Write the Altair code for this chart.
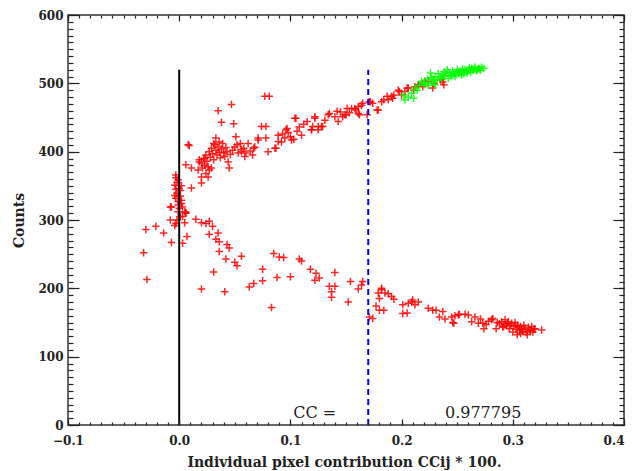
import altair as alt
import pandas as pd

# ---------------- data ----------------
x_major = [-0.1, 0.0, 0.1, 0.2, 0.3, 0.4]
y_major = [0, 100, 200, 300, 400, 500, 600]
x_minor = [round(-0.1 + 0.01 * i, 3) for i in range(51)]
y_minor = list(range(0, 601, 10))

red_upper = [
    (-0.003, 366), (-0.001, 359), (-0.004, 351), (0.000, 346), (-0.002, 339), (-0.003, 332),
    (0.002, 329), (-0.001, 322), (-0.001, 327), (0.002, 324), (0.003, 319), (0.000, 317),
    (0.005, 312), (0.006, 310), (-0.002, 355), (0.001, 343), (-0.004, 336), (0.001, 335),
    (-0.003, 345), (-0.002, 300), (-0.004, 292), (0.001, 305), (-0.001, 312), (-0.003, 362),
    (0.002, 350), (-0.008, 319),
    (0.006, 381), (0.011, 376), (0.017, 373), (0.020, 363), (0.011, 347), (0.020, 354),
    (0.026, 363), (0.029, 376), (0.008, 410), (0.009, 409), (0.033, 420), (0.035, 460),
    (0.038, 443), (0.047, 469), (0.049, 441), (0.077, 481), (0.081, 481), (0.074, 437),
    (0.078, 437), (0.096, 432), (0.051, 422), (0.062, 412), (0.071, 420), (0.078, 420),
    (0.089, 415), (0.087, 405), (0.080, 400), (0.067, 405), (0.056, 403), (0.053, 398),
    (0.045, 376), (0.050, 407), (0.056, 400), (0.059, 393), (0.068, 407), (0.071, 417),
    (0.086, 405), (0.089, 424), (0.097, 434), (0.104, 449), (0.101, 417), (0.110, 424),
    (0.119, 432), (0.122, 451),
    (0.020, 383), (0.022, 390), (0.024, 395), (0.025, 386), (0.027, 400), (0.028, 392),
    (0.029, 405), (0.030, 397), (0.031, 388), (0.032, 410), (0.033, 402), (0.034, 395),
    (0.035, 407), (0.036, 399), (0.037, 391), (0.038, 404), (0.039, 412), (0.040, 398),
    (0.041, 393), (0.042, 406), (0.043, 400), (0.044, 385), (0.026, 378), (0.023, 380),
    (0.031, 412), (0.018, 388), (0.036, 414), (0.046, 396), (0.048, 402), (0.052, 410),
    (0.055, 412), (0.058, 405), (0.060, 398), (0.064, 401), (0.066, 395),
    (0.023, 390), (0.018, 385), (0.021, 376), (0.027, 373), (0.024, 368),
    (0.092, 414), (0.095, 420), (0.098, 428), (0.100, 422), (0.103, 418), (0.106, 430),
    (0.108, 436), (0.093, 426), (0.105, 449), (0.122, 449), (0.120, 437), (0.125, 437),
    (0.119, 432), (0.129, 437), (0.128, 437), (0.125, 432), (0.134, 454), (0.142, 459),
    (0.143, 444), (0.149, 454), (0.151, 463), (0.158, 463), (0.161, 456), (0.164, 468),
    (0.169, 454), (0.172, 473), (0.178, 461), (0.135, 456), (0.140, 451), (0.147, 451),
    (0.150, 454), (0.155, 463), (0.159, 461), (0.162, 454), (0.161, 466), (0.165, 471),
    (0.171, 473), (0.174, 471), (0.179, 461), (0.182, 473), (0.188, 476), (0.191, 481),
    (0.192, 478), (0.184, 476), (0.187, 481), (0.193, 483), (0.197, 490), (0.198, 488),
    (0.200, 483), (0.203, 488), (0.206, 493), (0.205, 493), (0.211, 490), (0.212, 495),
    (0.215, 498), (0.218, 500), (0.221, 503), (0.224, 503), (0.229, 500), (0.235, 505),
    (0.238, 498), (0.112, 440), (0.115, 444), (0.131, 446), (0.145, 458), (0.153, 457),
    (0.219, 495), (0.228, 493), (0.237, 502),
]

red_lower = [
    (-0.030, 286), (-0.021, 291), (-0.014, 281), (-0.032, 252), (-0.029, 213), (-0.007, 319),
    (-0.008, 300), (-0.007, 267), (-0.003, 295), (0.003, 266), (0.005, 296), (0.003, 305),
    (0.006, 311), (0.007, 276), (0.015, 301), (0.020, 296), (0.024, 295), (0.027, 298),
    (0.030, 291), (0.027, 279), (0.035, 281), (0.033, 272), (0.036, 268), (0.043, 264),
    (0.045, 259), (0.036, 254), (0.042, 243), (0.056, 247), (0.050, 238), (0.052, 233),
    (0.031, 224), (0.020, 199), (0.041, 195), (0.075, 228), (0.075, 211), (0.063, 202),
    (0.067, 207), (0.088, 216), (0.083, 172), (0.085, 251), (0.090, 246), (0.094, 245),
    (0.100, 217), (0.108, 243), (0.110, 240), (0.118, 228), (0.123, 222), (0.122, 212),
    (0.126, 215), (0.140, 223), (0.135, 203), (0.140, 203), (0.137, 195), (0.137, 187),
    (0.154, 210), (0.152, 180), (0.161, 199), (0.164, 205), (0.165, 210), (0.171, 158),
    (0.174, 156), (0.179, 193), (0.182, 198), (0.180, 185), (0.185, 193), (0.188, 192),
    (0.191, 188), (0.193, 184), (0.182, 200), (0.177, 174), (0.180, 168), (0.184, 168),
    (0.201, 176), (0.206, 178), (0.209, 180), (0.210, 183), (0.212, 176), (0.215, 180),
    (0.205, 164), (0.201, 163), (0.224, 171), (0.228, 168), (0.231, 168), (0.237, 166),
    (0.234, 158), (0.239, 155), (0.245, 158), (0.248, 160), (0.251, 161), (0.246, 150),
    (0.252, 162), (0.257, 162), (0.260, 161), (0.247, 149),
    (0.266, 158), (0.263, 151), (0.269, 149), (0.273, 149), (0.274, 141), (0.281, 154),
    (0.282, 156), (0.285, 141), (0.290, 151), (0.293, 154), (0.296, 151), (0.299, 149),
    (0.297, 141), (0.301, 144), (0.304, 146), (0.306, 139), (0.307, 144), (0.311, 141),
    (0.312, 136), (0.315, 139), (0.317, 144), (0.318, 136), (0.307, 134), (0.304, 132),
    (0.313, 132), (0.320, 141), (0.326, 139), (0.300, 136), (0.294, 146),
    (0.288, 148), (0.292, 145), (0.295, 148), (0.298, 146), (0.302, 150), (0.305, 143),
    (0.308, 140), (0.310, 146), (0.314, 143), (0.316, 138), (0.319, 140), (0.309, 137),
    (0.303, 140), (0.291, 143), (0.286, 150), (0.278, 152), (0.276, 147), (0.271, 155),
]

green = [
    (0.202, 483), (0.203, 476), (0.211, 478), (0.212, 493), (0.218, 503), (0.226, 515),
    (0.229, 505), (0.238, 517), (0.236, 507), (0.241, 520), (0.245, 512), (0.251, 517),
    (0.257, 520), (0.263, 522), (0.269, 522), (0.272, 524), (0.259, 515), (0.254, 512),
    (0.248, 510), (0.242, 507), (0.232, 505),
    (0.230, 510), (0.233, 514), (0.237, 512), (0.240, 515), (0.243, 516), (0.246, 518),
    (0.249, 514), (0.250, 520), (0.253, 518), (0.255, 521), (0.258, 517), (0.260, 519),
    (0.262, 516), (0.264, 519), (0.265, 521), (0.267, 518), (0.268, 520), (0.270, 521),
    (0.271, 519), (0.274, 522), (0.252, 515), (0.256, 514), (0.247, 513), (0.244, 511),
    (0.239, 510), (0.235, 509), (0.227, 508), (0.223, 506), (0.220, 500), (0.216, 497),
    (0.214, 490), (0.209, 486), (0.206, 480), (0.224, 497), (0.221, 499), (0.261, 523),
    (0.266, 524), (0.224, 500), (0.228, 502), (0.230, 498),
]

vline_x = [0.0, 0.17]
vline_bottom = [0, 0]
vline_top = [520, 520]
vline_name = ["zero", "cc"]

note_text = ["CC =", "0.977795"]
note_x = [0.1025, 0.239]
note_y = [17.5, 17.5]

# ---------------- tables ----------------
pts = pd.DataFrame(
    [(x, y, "red") for x, y in red_upper + red_lower] + [(x, y, "green") for x, y in green],
    columns=["x", "y", "grp"],
)
lines = pd.DataFrame({"x": vline_x, "y0": vline_bottom, "y1": vline_top, "name": vline_name})
notes = pd.DataFrame({"x": note_x, "y": note_y, "t": note_text})

XS = alt.Scale(domain=[-0.1, 0.4], nice=False, zero=False)
YS = alt.Scale(domain=[0, 600], nice=False, zero=False)
FONT = "DejaVu Serif"
TICK = "#222222"


def tick_axis(orient, values, size, **kw):
    base = dict(orient=orient, values=values, ticks=True, tickSize=size, offset=-size,
                domain=False, grid=False, tickColor=TICK, tickWidth=1.2, tickOpacity=1,
                labels=False, title=None, zindex=2)
    base.update(kw)
    return alt.Axis(**base)


ax_x_bottom = tick_axis(
    "bottom", x_major, 6, labels=True, format=".1f", labelPadding=10, labelFont=FONT,
    labelFontSize=12, labelFontWeight="bold", labelColor="#222222", labelFlush=False,
    labelOverlap=False,
    labelAlign={"condition": {"test": "datum.value >= 0.39", "value": "right"}, "value": "center"},
    title="Individual pixel contribution CCij * 100.", titleFont=FONT,
    titleFontSize=14, titleFontWeight="bold", titleColor="#222222", titleX=276, titleY=43,
    titleBaseline="middle", titleAlign="center")
ax_y_left = tick_axis(
    "left", y_major, 11, labels=True, format="d", labelPadding=5, labelFont=FONT,
    labelFontSize=12, labelFontWeight="bold", labelColor="#222222", labelFlush=False,
    labelOverlap=False, title="Counts", titleFont=FONT, titleFontSize=14,
    titleFontWeight="bold", titleColor="#222222", titleX=-60, titleY=205, titleAngle=270,
    titleBaseline="middle", titleAlign="center")

points = alt.Chart(pts).mark_point(
    shape="M-1,0L1,0M0,-1L0,1", size=56, filled=False, strokeWidth=1.5, opacity=0.85
).encode(
    x=alt.X("x:Q", scale=XS, axis=ax_x_bottom),
    y=alt.Y("y:Q", scale=YS, axis=ax_y_left),
    color=alt.Color("grp:N", scale=alt.Scale(domain=["red", "green"], range=["#ff0000", "#00ff00"]), legend=None),
)

zero_line = alt.Chart(lines).transform_filter("datum.name == 'zero'").mark_rule(
    color="black", strokeWidth=2
).encode(
    x=alt.X("x:Q", scale=XS, axis=tick_axis("bottom", x_minor, 3)),
    y=alt.Y("y0:Q", scale=YS, axis=tick_axis("left", y_minor, 5)),
    y2="y1:Q",
)

cc_line = alt.Chart(lines).transform_filter("datum.name == 'cc'").mark_rule(
    color="#0000ff", strokeWidth=2, strokeDash=[6, 4]
).encode(
    x=alt.X("x:Q", scale=XS, axis=tick_axis("top", x_major, 6)),
    y=alt.Y("y0:Q", scale=YS, axis=tick_axis("right", y_major, 11)),
    y2="y1:Q",
)

text = alt.Chart(notes).mark_text(
    align="left", baseline="middle", font=FONT, fontSize=16, color="#222222"
).encode(
    x=alt.X("x:Q", scale=XS, axis=tick_axis("top", x_minor, 3)),
    y=alt.Y("y:Q", scale=YS, axis=tick_axis("right", y_minor, 5)),
    text="t:N",
)

chart = alt.layer(points, zero_line, cc_line, text).resolve_axis(
    x="independent", y="independent"
).properties(
    width=556, height=410,
    padding={"left": 60, "top": 7, "right": 2, "bottom": 46},
    autosize=alt.AutoSizeParams(type="none"),
).configure_view(stroke="#333333", strokeWidth=1.5)

chart.save("out.html", embed_options={"renderer": "svg", "actions": False})
